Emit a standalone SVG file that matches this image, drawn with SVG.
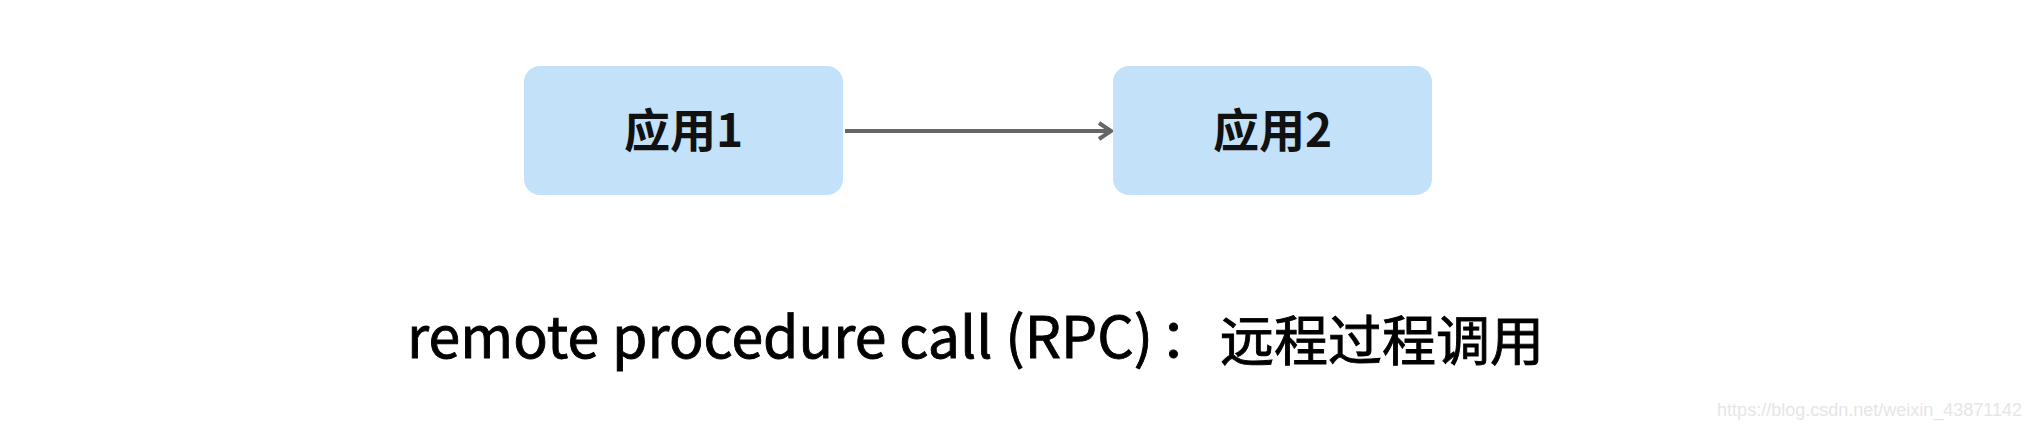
<svg xmlns="http://www.w3.org/2000/svg" width="2032" height="428" viewBox="0 0 2032 428">
<defs>
<style>
.box{fill:#c4e1fa;}
.lbl{font-family:"Noto Sans CJK SC","Noto Sans",sans-serif;font-size:46px;fill:#111;text-anchor:middle;font-weight:bold;}
.cap{font-family:"Noto Sans CJK SC","Noto Sans",sans-serif;fill:#000;stroke:#000;stroke-width:0.9;}
.wm{font-family:"Liberation Sans",Arial,sans-serif;font-size:18px;fill:#e6e6e6;text-anchor:end;}
.edge{stroke:#666;stroke-width:4;fill:none;}
</style>
<marker id="arr" viewBox="0 0 20 20" refX="16" refY="10" markerWidth="20" markerHeight="20" markerUnits="userSpaceOnUse" orient="auto">
<path d="M4,2 L16,10 L4,18" fill="none" stroke="#666" stroke-width="4" stroke-linejoin="miter"/>
</marker>
</defs>
<rect width="2032" height="428" fill="#fff"/>
<g id="connectors">
<line class="edge" x1="845" y1="131" x2="1111" y2="131" marker-end="url(#arr)"/>
</g>
<g id="node-app1">
<rect class="box" x="524" y="66" width="319" height="129" rx="16"/>
<text class="lbl" x="683.5" y="147">应用1</text>
</g>
<g id="node-app2">
<rect class="box" x="1113" y="66" width="319" height="129" rx="16"/>
<text class="lbl" x="1272.5" y="147">应用2</text>
</g>
<g id="caption">
<text class="cap" x="407" y="358" font-size="57" textLength="746" lengthAdjust="spacingAndGlyphs">remote procedure call (RPC)</text>
<text class="cap" x="1160" y="358" font-size="54">：</text>
<text class="cap" x="1220" y="361" font-size="54">远程过程调用</text>
</g>
<text class="wm" x="2022" y="416">https://blog.csdn.net/weixin_43871142</text>
</svg>
